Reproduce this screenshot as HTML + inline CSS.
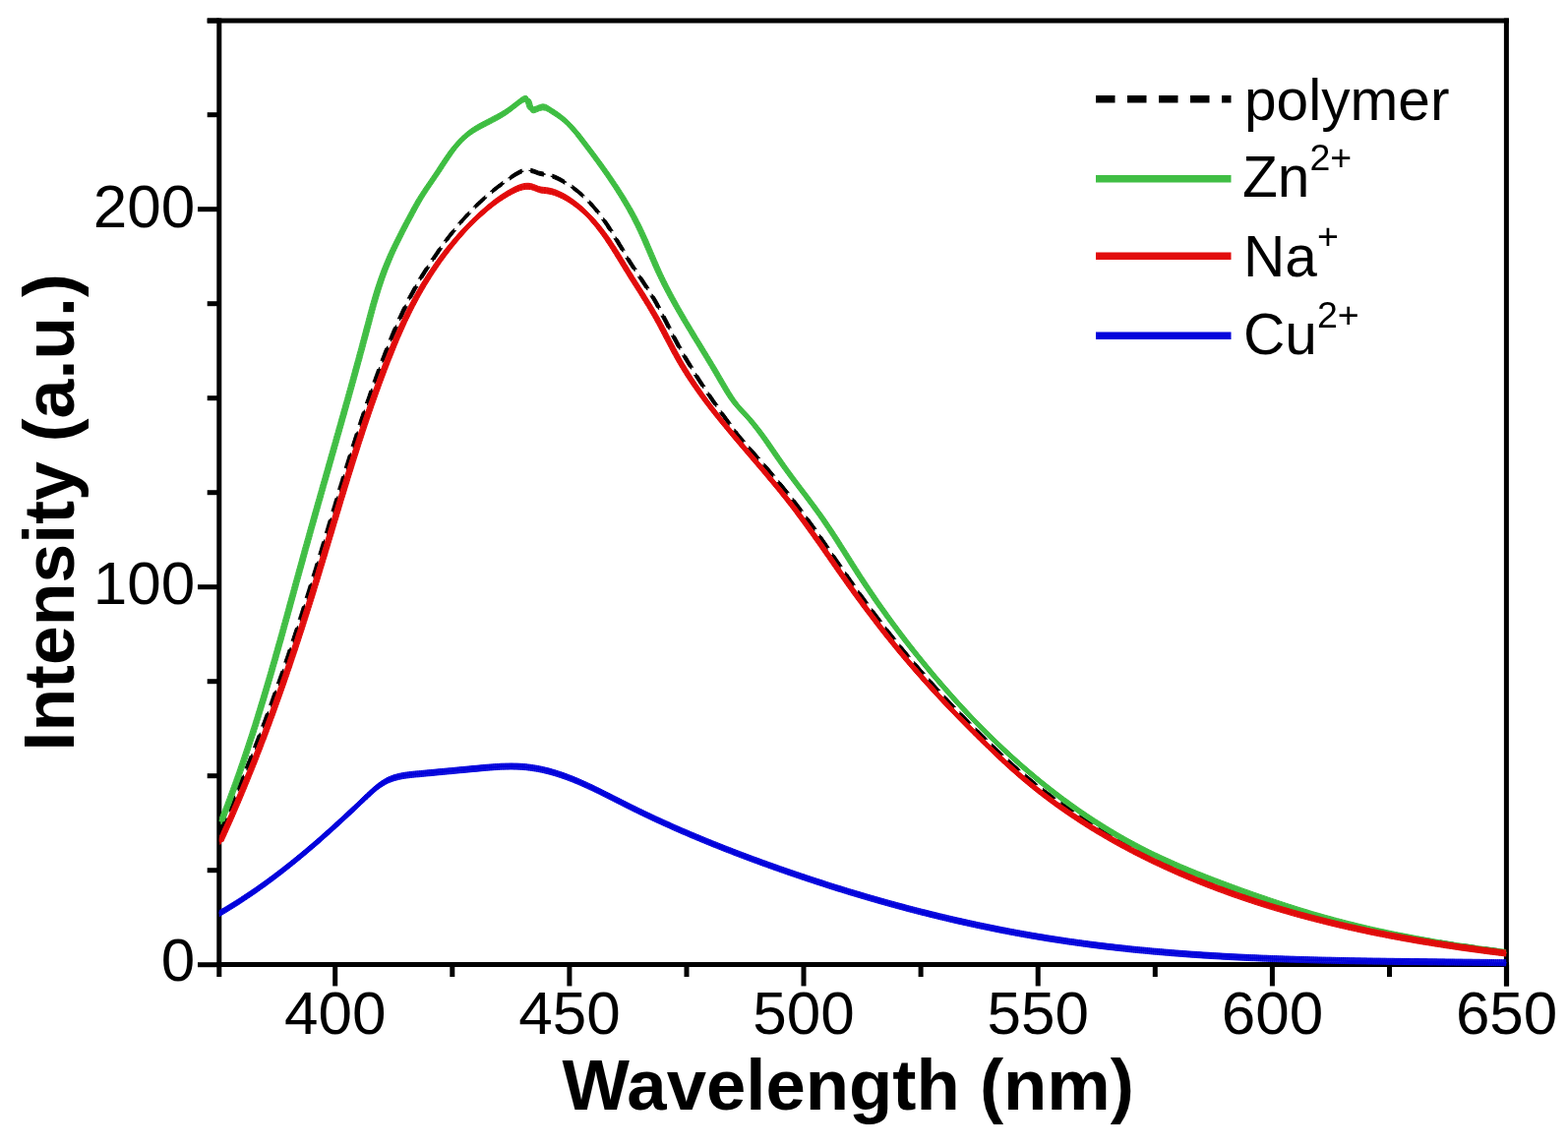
<!DOCTYPE html>
<html><head><meta charset="utf-8"><title>Fluorescence spectra</title>
<style>
html,body{margin:0;padding:0;background:#fff;}
body{width:1594px;height:1167px;overflow:hidden;}
svg{display:block;}
text{font-family:"Liberation Sans",Arial,sans-serif;fill:#000;}
</style></head><body>
<svg width="1594" height="1167" viewBox="0 0 1594 1167">
<rect width="1594" height="1167" fill="#fff"/>
<defs><clipPath id="pc"><rect x="222.8" y="21.0" width="1308.4" height="962.6"/></clipPath></defs>

<g stroke="#000" stroke-width="5.0" fill="none" stroke-linecap="butt">
<path d="M222.8 18.5 V983.1"/>
<path d="M1531.4 18.5 V1002.4"/>
<path d="M210.7 21.0 H1533.9"/>
<path d="M220.3 980.6 H1533.9"/>
<line x1="340.7" y1="980.6" x2="340.7" y2="1002.4"/><line x1="578.9" y1="980.6" x2="578.9" y2="1002.4"/><line x1="817.0" y1="980.6" x2="817.0" y2="1002.4"/><line x1="1055.2" y1="980.6" x2="1055.2" y2="1002.4"/><line x1="1293.4" y1="980.6" x2="1293.4" y2="1002.4"/><line x1="1531.6" y1="980.6" x2="1531.6" y2="1002.4"/><line x1="222.8" y1="980.6" x2="222.8" y2="993"/><line x1="459.8" y1="980.6" x2="459.8" y2="993"/><line x1="698.0" y1="980.6" x2="698.0" y2="993"/><line x1="936.1" y1="980.6" x2="936.1" y2="993"/><line x1="1174.3" y1="980.6" x2="1174.3" y2="993"/><line x1="1412.5" y1="980.6" x2="1412.5" y2="993"/><line x1="201" y1="980.7" x2="222.8" y2="980.7"/><line x1="201" y1="596.7" x2="222.8" y2="596.7"/><line x1="201" y1="212.7" x2="222.8" y2="212.7"/><line x1="210.7" y1="884.7" x2="222.8" y2="884.7"/><line x1="210.7" y1="788.7" x2="222.8" y2="788.7"/><line x1="210.7" y1="692.7" x2="222.8" y2="692.7"/><line x1="210.7" y1="500.7" x2="222.8" y2="500.7"/><line x1="210.7" y1="404.7" x2="222.8" y2="404.7"/><line x1="210.7" y1="308.7" x2="222.8" y2="308.7"/><line x1="210.7" y1="116.7" x2="222.8" y2="116.7"/><line x1="210.7" y1="21.0" x2="222.8" y2="21.0"/>
</g>
<defs>
<path id="cb" d="M223.8 844.6 L225.0 841.9 L226.3 839.1 L227.5 836.4 L228.7 833.6 L229.9 830.9 L231.2 828.1 L232.4 825.3 L233.6 822.6 L234.8 819.8 L236.0 817.1 L237.2 814.3 L238.3 811.5 L239.5 808.8 L240.7 806.0 L241.9 803.2 L243.0 800.4 L244.2 797.7 L245.3 794.9 L246.5 792.1 L247.6 789.3 L248.7 786.5 L249.9 783.8 L251.0 781.0 L252.1 778.2 L253.2 775.4 L254.4 772.6 L255.5 769.8 L256.6 767.0 L257.7 764.2 L258.8 761.4 L259.9 758.6 L260.9 755.9 L262.0 753.1 L263.1 750.2 L264.2 747.4 L265.2 744.6 L266.3 741.8 L267.4 739.0 L268.4 736.2 L269.5 733.4 L270.5 730.6 L271.5 727.8 L272.6 725.0 L273.6 722.2 L274.6 719.3 L275.7 716.5 L276.7 713.7 L277.7 710.9 L278.7 708.0 L279.7 705.2 L280.7 702.4 L281.7 699.6 L282.7 696.7 L283.7 693.9 L284.7 691.1 L285.7 688.2 L286.7 685.4 L287.7 682.6 L288.6 679.7 L289.6 676.9 L290.6 674.1 L291.5 671.2 L292.5 668.4 L293.5 665.5 L294.4 662.7 L295.4 659.8 L296.3 657.0 L297.3 654.1 L298.2 651.3 L299.2 648.4 L300.1 645.6 L301.0 642.7 L302.0 639.9 L302.9 637.0 L303.8 634.2 L304.7 631.3 L305.7 628.4 L306.6 625.6 L307.5 622.7 L308.4 619.9 L309.3 617.0 L310.2 614.1 L311.1 611.3 L312.0 608.4 L312.9 605.5 L313.8 602.6 L314.7 599.8 L315.6 596.9 L316.5 594.0 L317.4 591.2 L318.3 588.3 L319.1 585.4 L320.0 582.5 L320.9 579.7 L321.8 576.8 L322.6 573.9 L323.5 571.1 L324.4 568.2 L325.2 565.3 L326.1 562.5 L327.0 559.6 L327.8 556.7 L328.7 553.9 L329.6 551.0 L330.4 548.1 L331.3 545.2 L332.2 542.4 L333.0 539.5 L333.9 536.6 L334.7 533.8 L335.6 530.9 L336.5 528.0 L337.3 525.1 L338.2 522.3 L339.0 519.4 L339.9 516.5 L340.8 513.7 L341.6 510.8 L342.5 507.9 L343.4 505.0 L344.2 502.2 L345.1 499.3 L345.9 496.4 L346.8 493.6 L347.7 490.7 L348.6 487.8 L349.4 485.0 L350.3 482.1 L351.2 479.3 L352.1 476.4 L352.9 473.5 L353.8 470.7 L354.7 467.8 L355.6 465.0 L356.5 462.1 L357.4 459.2 L358.3 456.4 L359.2 453.5 L360.1 450.7 L361.0 447.9 L361.9 445.0 L362.8 442.2 L363.7 439.3 L364.6 436.5 L365.6 433.6 L366.5 430.8 L367.4 428.0 L368.3 425.1 L369.3 422.3 L370.2 419.5 L371.2 416.7 L372.1 413.8 L373.1 411.0 L374.0 408.2 L375.0 405.4 L376.0 402.6 L376.9 399.8 L377.9 397.0 L378.9 394.2 L379.9 391.4 L380.9 388.6 L381.9 385.8 L382.9 383.0 L383.9 380.2 L384.9 377.4 L386.0 374.6 L387.0 371.8 L388.0 369.1 L389.1 366.3 L390.1 363.5 L391.2 360.8 L392.2 358.0 L393.3 355.3 L394.4 352.5 L395.5 349.8 L396.6 347.0 L397.7 344.3 L398.8 341.5 L399.9 338.8 L401.0 336.1 L402.2 333.5 L403.3 330.8 L404.5 328.1 L405.7 325.5 L406.9 322.8 L408.1 320.2 L409.3 317.6 L410.5 315.0 L411.8 312.3 L413.1 309.7 L414.4 307.1 L415.7 304.5 L417.0 301.9 L418.4 299.3 L419.8 296.8 L421.2 294.2 L422.6 291.7 L424.0 289.1 L425.5 286.6 L427.0 284.0 L428.5 281.5 L430.0 279.0 L431.6 276.5 L433.2 274.0 L434.8 271.6 L436.4 269.1 L438.0 266.7 L439.7 264.3 L441.4 261.7 L443.1 259.2 L444.8 256.7 L446.5 254.1 L448.3 251.6 L450.1 249.2 L451.9 246.7 L453.7 244.3 L455.5 241.8 L457.4 239.4 L459.3 237.0 L461.2 234.7 L463.1 232.3 L465.0 230.0 L467.0 227.7 L468.9 225.4 L470.9 223.2 L472.9 220.9 L474.9 218.7 L477.0 216.5 L479.0 214.4 L481.1 212.2 L483.2 210.1 L485.3 208.0 L487.5 206.0 L489.6 204.0 L491.8 202.0 L493.9 200.0 L496.1 198.1 L498.4 196.2 L500.6 194.3 L502.9 192.5 L505.2 190.7 L507.6 188.9 L510.0 187.2 L512.5 185.3 L515.0 183.4 L517.6 181.5 L520.3 179.7 L523.0 177.9 L525.8 176.3 L528.6 174.8 L531.4 173.8 L534.2 173.3 L537.0 173.1 L539.7 173.4 L542.3 174.1 L544.9 175.0 L547.4 176.0 L550.0 176.6 L552.7 177.1 L555.3 177.5 L558.0 178.1 L560.8 178.9 L563.5 179.8 L566.2 181.0 L568.8 182.3 L571.5 183.7 L574.1 185.3 L576.7 186.9 L579.2 188.5 L581.7 190.2 L584.1 192.0 L586.5 193.8 L588.8 195.7 L591.0 197.6 L593.2 199.6 L595.3 201.7 L597.4 203.8 L599.5 205.9 L601.5 208.1 L603.4 210.3 L605.3 212.5 L607.2 214.8 L609.0 217.1 L610.8 219.5 L612.6 221.9 L614.4 224.4 L616.1 226.9 L617.8 229.4 L619.4 232.0 L621.1 234.5 L622.7 237.1 L624.3 239.7 L625.9 242.3 L627.5 244.9 L629.0 247.5 L630.6 250.1 L632.2 252.7 L633.7 255.3 L635.3 258.0 L636.8 260.6 L638.4 263.2 L640.0 265.8 L641.5 268.2 L643.1 270.6 L644.7 273.0 L646.3 275.4 L647.9 277.8 L649.5 280.2 L651.1 282.5 L652.7 284.9 L654.2 287.3 L655.8 289.7 L657.4 292.1 L658.9 294.5 L660.5 296.9 L662.0 299.3 L663.5 301.8 L665.0 304.2 L666.5 306.9 L668.0 309.6 L669.4 312.3 L670.9 315.0 L672.3 317.7 L673.7 320.5 L675.1 323.2 L676.5 325.9 L677.9 328.7 L679.3 331.4 L680.7 334.2 L682.1 336.9 L683.5 339.7 L684.9 342.4 L686.3 345.1 L687.8 347.8 L689.2 350.5 L690.7 353.2 L692.2 355.9 L693.7 358.6 L695.3 361.2 L696.8 363.8 L698.4 366.5 L700.0 369.1 L701.6 371.8 L703.3 374.5 L704.9 377.2 L706.6 379.9 L708.3 382.6 L710.0 385.3 L711.7 387.9 L713.4 390.6 L715.2 393.2 L716.9 395.9 L718.7 398.5 L720.5 401.1 L722.3 403.7 L724.1 406.4 L725.9 409.0 L727.8 411.6 L729.6 414.2 L731.5 416.9 L733.3 419.5 L735.2 422.1 L737.1 424.7 L739.0 427.3 L740.9 429.9 L742.8 432.5 L744.7 435.1 L746.6 437.6 L748.5 440.2 L750.4 442.7 L752.3 444.9 L754.3 447.1 L756.2 449.3 L758.1 451.5 L760.1 453.7 L762.0 455.9 L763.9 458.1 L765.9 460.3 L767.8 462.5 L769.7 464.7 L771.7 466.9 L773.6 469.1 L775.5 471.3 L777.5 473.5 L779.4 475.7 L781.3 478.0 L783.2 480.2 L785.1 482.5 L787.0 484.8 L788.9 487.0 L790.8 489.3 L792.7 491.6 L794.6 493.9 L796.4 496.2 L798.3 498.5 L800.2 500.8 L802.0 503.1 L803.8 505.4 L805.7 507.8 L807.5 510.1 L809.3 512.5 L811.1 514.8 L812.8 517.2 L814.6 519.5 L816.4 521.9 L818.2 524.3 L819.9 526.7 L821.7 529.1 L823.4 531.4 L825.1 533.8 L826.9 536.2 L828.6 538.7 L830.3 541.1 L832.0 543.5 L833.8 546.0 L835.5 548.5 L837.2 550.9 L838.9 553.4 L840.6 555.9 L842.3 558.4 L844.0 560.8 L845.7 563.3 L847.4 565.8 L849.1 568.3 L850.8 570.8 L852.5 573.2 L854.2 575.7 L855.9 578.2 L857.7 580.7 L859.4 583.1 L861.1 585.6 L862.8 588.1 L864.5 590.5 L866.3 593.0 L868.0 595.4 L869.7 597.9 L871.5 600.3 L873.2 602.8 L875.0 605.2 L876.8 607.6 L878.5 610.1 L880.3 612.5 L882.1 614.9 L883.9 617.3 L885.7 619.7 L887.5 622.1 L889.3 624.5 L891.1 626.9 L892.9 629.3 L894.7 631.7 L896.5 634.1 L898.4 636.5 L900.2 638.8 L902.0 641.2 L903.9 643.5 L905.8 645.8 L907.6 648.2 L909.5 650.5 L911.4 652.8 L913.2 655.1 L915.1 657.4 L917.0 659.7 L918.9 662.0 L920.8 664.3 L922.7 666.6 L924.7 668.9 L926.6 671.1 L928.5 673.4 L930.5 675.7 L932.4 677.9 L934.3 680.2 L936.3 682.4 L938.3 684.6 L940.2 686.9 L942.2 689.1 L944.2 691.3 L946.2 693.5 L948.1 695.7 L950.1 697.9 L952.1 700.1 L954.2 702.3 L956.2 704.5 L958.2 706.7 L960.2 708.8 L962.2 711.0 L964.3 713.2 L966.3 715.3 L968.4 717.5 L970.4 719.6 L972.5 721.8 L974.5 723.9 L976.6 726.1 L978.7 728.2 L980.8 730.3 L982.8 732.5 L984.9 734.6 L987.0 736.7 L989.1 738.8 L991.2 741.0 L993.3 743.1 L995.4 745.2 L997.6 747.3 L999.7 749.4 L1001.8 751.5 L1003.9 753.6 L1006.1 755.7 L1008.2 757.8 L1010.4 759.8 L1012.5 761.9 L1014.7 764.0 L1016.9 766.0 L1019.1 768.1 L1021.2 770.1 L1023.4 772.1 L1025.7 774.1 L1027.9 776.2 L1030.1 778.1 L1032.3 780.1 L1034.6 782.1 L1036.8 784.1 L1039.1 786.0 L1041.4 788.0 L1043.7 789.9 L1046.0 791.8 L1048.3 793.7 L1050.6 795.6 L1052.9 797.5 L1055.2 799.3 L1057.6 801.2 L1059.9 803.0 L1062.3 804.8 L1064.7 806.6 L1067.1 808.4 L1069.5 810.2 L1071.9 812.0 L1074.3 813.8 L1076.7 815.5 L1079.2 817.2 L1081.6 819.0 L1084.1 820.7 L1086.5 822.4 L1089.0 824.0 L1091.5 825.7 L1094.0 827.4 L1096.4 829.0 L1099.0 830.7 L1101.5 832.3 L1104.0 833.9 L1106.5 835.5 L1109.0 837.1 L1111.6 838.7 L1114.1 840.2 L1116.7 841.8 L1119.3 843.3 L1121.8 844.8 L1124.4 846.4 L1127.0 847.9 L1129.6 849.4 L1132.2 850.8 L1134.8 852.3 L1137.4 853.8 L1140.0 855.2 L1142.7 856.7 L1145.3 858.1 L1147.9 859.5 L1150.6 860.9 L1153.2 862.3 L1155.9 863.7 L1158.6 865.0 L1161.2 866.4 L1163.9 867.7 L1166.6 869.1 L1169.3 870.4 L1172.0 871.7 L1174.7 873.0 L1177.4 874.3 L1180.1 875.6 L1182.8 876.9 L1185.5 878.1 L1188.2 879.4 L1190.9 880.6 L1193.7 881.9 L1196.4 883.1 L1199.1 884.3 L1201.9 885.5 L1204.6 886.7 L1207.4 887.8 L1210.1 889.0 L1212.9 890.2 L1215.7 891.3 L1218.4 892.5 L1221.2 893.6 L1224.0 894.7 L1226.7 895.8 L1229.5 896.9 L1232.3 898.0 L1235.1 899.1 L1237.9 900.1 L1240.7 901.2 L1243.5 902.3 L1246.3 903.3 L1249.1 904.3 L1251.9 905.3 L1254.7 906.4 L1257.5 907.4 L1260.3 908.4 L1263.2 909.3 L1266.0 910.3 L1268.8 911.3 L1271.7 912.2 L1274.5 913.2 L1277.3 914.1 L1280.2 915.1 L1283.0 916.0 L1285.9 916.9 L1288.7 917.8 L1291.6 918.7 L1294.4 919.6 L1297.3 920.5 L1300.2 921.3 L1303.0 922.2 L1305.9 923.0 L1308.8 923.9 L1311.6 924.7 L1314.5 925.5 L1317.4 926.4 L1320.3 927.2 L1323.1 928.0 L1326.0 928.7 L1328.9 929.5 L1331.8 930.3 L1334.7 931.1 L1337.6 931.8 L1340.5 932.6 L1343.4 933.3 L1346.3 934.1 L1349.2 934.8 L1352.1 935.5 L1355.0 936.2 L1357.9 936.9 L1360.8 937.6 L1363.7 938.3 L1366.6 939.0 L1369.5 939.7 L1372.5 940.4 L1375.4 941.0 L1378.3 941.7 L1381.2 942.3 L1384.1 943.0 L1387.1 943.6 L1390.0 944.2 L1392.9 944.9 L1395.8 945.5 L1398.8 946.1 L1401.7 946.7 L1404.6 947.3 L1407.6 947.9 L1410.5 948.5 L1413.4 949.0 L1416.4 949.6 L1419.3 950.2 L1422.3 950.7 L1425.2 951.3 L1428.1 951.8 L1431.1 952.4 L1434.0 952.9 L1437.0 953.4 L1439.9 954.0 L1442.8 954.5 L1445.8 955.0 L1448.7 955.5 L1451.7 956.0 L1454.6 956.5 L1457.6 957.0 L1460.5 957.5 L1463.5 957.9 L1466.4 958.4 L1469.4 958.9 L1472.3 959.4 L1475.3 959.8 L1478.2 960.3 L1481.2 960.7 L1484.1 961.1 L1487.1 961.6 L1490.0 962.0 L1493.0 962.4 L1495.9 962.9 L1498.9 963.3 L1501.8 963.7 L1504.8 964.1 L1507.7 964.5 L1510.7 964.9 L1513.6 965.3 L1516.6 965.7 L1519.5 966.1 L1522.5 966.5 L1525.4 966.8 L1528.3 967.2 L1531.3 967.6"/>
<path id="cg" d="M224.8 835.2 L226.0 832.3 L227.2 829.3 L228.3 826.4 L229.5 823.4 L230.6 820.4 L231.8 817.5 L232.9 814.5 L234.0 811.5 L235.1 808.5 L236.2 805.6 L237.3 802.6 L238.4 799.6 L239.5 796.6 L240.6 793.6 L241.6 790.6 L242.7 787.6 L243.8 784.6 L244.8 781.6 L245.8 778.6 L246.9 775.6 L247.9 772.6 L248.9 769.6 L249.9 766.6 L250.9 763.6 L251.9 760.6 L252.9 757.6 L253.9 754.5 L254.9 751.5 L255.9 748.5 L256.9 745.5 L257.8 742.4 L258.8 739.4 L259.8 736.4 L260.7 733.3 L261.7 730.3 L262.6 727.3 L263.5 724.2 L264.5 721.2 L265.4 718.1 L266.3 715.1 L267.3 712.0 L268.2 709.0 L269.1 705.9 L270.0 702.9 L270.9 699.8 L271.8 696.8 L272.7 693.7 L273.6 690.7 L274.5 687.6 L275.4 684.6 L276.3 681.5 L277.1 678.4 L278.0 675.4 L278.9 672.3 L279.8 669.3 L280.6 666.2 L281.5 663.1 L282.4 660.1 L283.2 657.0 L284.1 653.9 L285.0 650.9 L285.8 647.8 L286.7 644.7 L287.5 641.7 L288.4 638.6 L289.2 635.5 L290.1 632.4 L290.9 629.4 L291.8 626.3 L292.6 623.2 L293.5 620.2 L294.3 617.1 L295.1 614.0 L296.0 610.9 L296.8 607.9 L297.7 604.8 L298.5 601.7 L299.4 598.6 L300.2 595.6 L301.0 592.5 L301.9 589.4 L302.7 586.4 L303.6 583.3 L304.4 580.2 L305.3 577.1 L306.1 574.1 L307.0 571.0 L307.8 567.9 L308.6 564.9 L309.5 561.8 L310.3 558.7 L311.2 555.7 L312.1 552.6 L312.9 549.5 L313.8 546.5 L314.6 543.4 L315.5 540.3 L316.3 537.3 L317.2 534.2 L318.1 531.1 L318.9 528.1 L319.8 525.0 L320.6 522.0 L321.5 518.9 L322.4 515.8 L323.2 512.8 L324.1 509.7 L325.0 506.7 L325.8 503.6 L326.7 500.5 L327.6 497.5 L328.4 494.4 L329.3 491.4 L330.2 488.3 L331.1 485.2 L331.9 482.2 L332.8 479.1 L333.7 476.1 L334.5 473.0 L335.4 469.9 L336.3 466.9 L337.1 463.8 L338.0 460.8 L338.9 457.7 L339.7 454.7 L340.6 451.6 L341.5 448.5 L342.3 445.5 L343.2 442.4 L344.1 439.4 L344.9 436.3 L345.8 433.2 L346.7 430.2 L347.5 427.1 L348.4 424.0 L349.3 421.0 L350.1 417.9 L351.0 414.9 L351.8 411.8 L352.7 408.7 L353.6 405.7 L354.4 402.6 L355.3 399.5 L356.1 396.5 L357.0 393.4 L357.8 390.3 L358.7 387.3 L359.5 384.2 L360.4 381.1 L361.2 378.1 L362.0 375.0 L362.9 371.9 L363.7 368.8 L364.6 365.8 L365.4 362.7 L366.2 359.6 L367.1 356.5 L367.9 353.5 L368.7 350.4 L369.5 347.3 L370.4 344.2 L371.2 341.1 L372.0 338.1 L372.8 335.0 L373.6 331.9 L374.5 328.8 L375.3 325.7 L376.1 322.6 L376.9 319.6 L377.7 316.5 L378.6 313.4 L379.4 310.3 L380.3 307.3 L381.2 304.2 L382.1 301.1 L383.0 298.1 L383.9 295.1 L384.9 292.0 L385.9 289.0 L386.9 286.0 L387.9 283.0 L389.0 280.0 L390.1 277.0 L391.2 274.0 L392.4 271.1 L393.6 268.1 L394.8 265.2 L396.0 262.3 L397.3 259.3 L398.6 256.4 L399.9 253.6 L401.3 250.7 L402.7 247.8 L404.1 245.0 L405.5 242.2 L406.9 239.4 L408.3 236.6 L409.7 233.8 L411.2 231.0 L412.6 228.2 L414.1 225.5 L415.5 222.8 L417.0 220.1 L418.4 217.4 L419.9 214.7 L421.3 212.0 L422.8 209.3 L424.3 206.7 L425.8 204.0 L427.4 201.4 L429.0 198.8 L430.7 196.2 L432.4 193.6 L434.1 191.0 L435.9 188.4 L437.7 185.8 L439.5 183.2 L441.3 180.5 L443.1 177.9 L444.9 175.2 L446.7 172.5 L448.4 169.8 L450.1 167.2 L451.9 164.5 L453.7 161.8 L455.5 159.2 L457.3 156.6 L459.1 154.0 L461.0 151.5 L463.0 149.1 L465.0 146.7 L467.1 144.3 L469.3 142.1 L471.5 139.9 L473.9 137.8 L476.3 135.8 L478.8 134.0 L481.5 132.2 L484.2 130.5 L487.0 128.9 L489.9 127.3 L492.8 125.8 L495.7 124.3 L498.6 122.8 L501.4 121.3 L504.3 119.8 L507.1 118.3 L509.8 116.7 L512.5 115.1 L515.1 113.4 L517.6 111.6 L520.1 109.8 L522.7 107.7 L525.5 105.6 L528.4 103.3 L531.3 101.3 L533.9 100.3 L535.9 100.8 L537.2 103.1 L538.1 106.4 L539.1 109.5 L540.6 111.5 L542.8 111.8 L545.6 110.8 L548.7 109.5 L551.8 108.8 L554.7 109.3 L557.5 110.7 L560.2 112.5 L562.9 114.2 L565.5 115.9 L568.1 117.7 L570.5 119.5 L572.9 121.4 L575.3 123.5 L577.5 125.7 L579.7 127.9 L581.8 130.2 L583.9 132.6 L586.0 135.0 L588.0 137.5 L589.9 140.0 L591.9 142.6 L593.8 145.1 L595.8 147.7 L597.7 150.2 L599.7 152.8 L601.6 155.4 L603.5 157.9 L605.4 160.5 L607.3 163.1 L609.2 165.6 L611.0 168.2 L612.9 170.8 L614.7 173.4 L616.6 176.0 L618.4 178.6 L620.2 181.2 L621.9 183.8 L623.7 186.5 L625.5 189.1 L627.2 191.7 L628.9 194.4 L630.6 197.1 L632.3 199.7 L633.9 202.4 L635.5 205.1 L637.1 207.8 L638.7 210.5 L640.3 213.2 L641.8 216.0 L643.3 218.7 L644.8 221.5 L646.2 224.3 L647.6 227.0 L649.0 229.8 L650.4 232.7 L651.7 235.5 L653.0 238.3 L654.3 241.2 L655.6 244.0 L656.8 246.9 L658.0 249.8 L659.3 252.7 L660.5 255.5 L661.7 258.4 L663.0 261.3 L664.2 264.2 L665.5 267.1 L666.7 270.0 L668.0 272.9 L669.3 275.8 L670.6 278.6 L672.0 281.5 L673.4 284.4 L674.8 287.2 L676.2 290.1 L677.7 292.9 L679.2 295.8 L680.7 298.6 L682.2 301.4 L683.7 304.2 L685.3 307.0 L686.8 309.8 L688.4 312.6 L690.0 315.4 L691.6 318.2 L693.2 320.9 L694.8 323.7 L696.4 326.5 L698.1 329.2 L699.7 331.9 L701.3 334.6 L703.0 337.3 L704.6 340.1 L706.2 342.8 L707.9 345.5 L709.5 348.1 L711.2 350.8 L712.8 353.5 L714.4 356.2 L716.1 358.9 L717.7 361.6 L719.4 364.3 L721.0 367.0 L722.6 369.7 L724.3 372.4 L725.9 375.1 L727.5 377.9 L729.1 380.6 L730.7 383.4 L732.3 386.1 L733.9 388.9 L735.6 391.7 L737.2 394.4 L738.8 397.2 L740.5 399.9 L742.2 402.5 L743.9 405.2 L745.8 407.7 L747.6 410.2 L749.6 412.6 L751.6 414.9 L753.7 417.2 L755.8 419.4 L758.0 421.6 L760.0 423.9 L762.1 426.3 L764.1 428.6 L766.1 431.1 L768.0 433.5 L770.0 436.0 L771.9 438.5 L773.8 441.1 L775.7 443.6 L777.5 446.2 L779.4 448.8 L781.2 451.4 L783.0 454.1 L784.8 456.7 L786.6 459.3 L788.4 461.9 L790.2 464.5 L792.0 467.1 L793.8 469.7 L795.6 472.3 L797.4 474.8 L799.3 477.4 L801.1 479.9 L802.9 482.3 L804.7 484.8 L806.6 487.3 L808.4 489.7 L810.3 492.2 L812.1 494.6 L814.0 497.1 L815.8 499.5 L817.7 502.0 L819.6 504.4 L821.4 506.9 L823.3 509.4 L825.1 511.9 L827.0 514.3 L828.8 516.9 L830.6 519.4 L832.5 521.9 L834.3 524.4 L836.1 527.0 L837.9 529.6 L839.6 532.2 L841.4 534.8 L843.2 537.4 L844.9 540.0 L846.6 542.7 L848.4 545.3 L850.1 548.0 L851.8 550.7 L853.5 553.4 L855.2 556.1 L856.9 558.7 L858.6 561.4 L860.3 564.1 L862.0 566.8 L863.7 569.5 L865.4 572.2 L867.1 574.9 L868.8 577.6 L870.5 580.2 L872.2 582.9 L873.9 585.6 L875.7 588.2 L877.4 590.8 L879.2 593.5 L880.9 596.1 L882.7 598.7 L884.4 601.3 L886.2 603.9 L888.0 606.5 L889.7 609.1 L891.5 611.7 L893.3 614.2 L895.1 616.8 L897.0 619.4 L898.8 621.9 L900.6 624.5 L902.4 627.0 L904.3 629.5 L906.1 632.1 L908.0 634.6 L909.9 637.1 L911.7 639.6 L913.6 642.1 L915.5 644.6 L917.4 647.1 L919.3 649.6 L921.2 652.1 L923.1 654.5 L925.1 657.0 L927.0 659.5 L929.0 662.0 L930.9 664.4 L932.9 666.9 L934.9 669.3 L936.9 671.8 L938.9 674.2 L940.9 676.7 L942.9 679.1 L944.9 681.5 L946.9 684.0 L948.9 686.4 L951.0 688.8 L953.1 691.2 L955.1 693.6 L957.2 696.0 L959.3 698.4 L961.4 700.8 L963.5 703.2 L965.6 705.6 L967.7 708.0 L969.8 710.3 L971.9 712.7 L974.1 715.0 L976.2 717.4 L978.4 719.7 L980.6 722.1 L982.7 724.4 L984.9 726.7 L987.1 729.0 L989.3 731.3 L991.5 733.6 L993.8 735.9 L996.0 738.2 L998.2 740.4 L1000.5 742.7 L1002.7 745.0 L1005.0 747.2 L1007.3 749.4 L1009.6 751.7 L1011.9 753.9 L1014.2 756.1 L1016.5 758.3 L1018.8 760.5 L1021.1 762.7 L1023.5 764.8 L1025.8 767.0 L1028.2 769.2 L1030.5 771.3 L1032.9 773.4 L1035.3 775.6 L1037.7 777.7 L1040.1 779.8 L1042.5 781.9 L1044.9 783.9 L1047.3 786.0 L1049.8 788.1 L1052.2 790.1 L1054.7 792.2 L1057.1 794.2 L1059.6 796.2 L1062.1 798.2 L1064.6 800.2 L1067.1 802.2 L1069.6 804.1 L1072.1 806.1 L1074.6 808.0 L1077.1 809.9 L1079.7 811.9 L1082.2 813.8 L1084.8 815.6 L1087.4 817.5 L1089.9 819.4 L1092.5 821.2 L1095.1 823.1 L1097.7 824.9 L1100.3 826.7 L1103.0 828.5 L1105.6 830.3 L1108.2 832.0 L1110.9 833.8 L1113.5 835.5 L1116.2 837.2 L1118.9 838.9 L1121.6 840.6 L1124.3 842.3 L1127.0 844.0 L1129.7 845.6 L1132.4 847.2 L1135.1 848.9 L1137.9 850.5 L1140.6 852.0 L1143.4 853.6 L1146.1 855.2 L1148.9 856.7 L1151.7 858.2 L1154.5 859.7 L1157.3 861.2 L1160.1 862.7 L1162.9 864.1 L1165.8 865.6 L1168.6 867.0 L1171.4 868.4 L1174.3 869.8 L1177.2 871.1 L1180.0 872.5 L1182.9 873.8 L1185.8 875.1 L1188.7 876.4 L1191.6 877.7 L1194.5 879.0 L1197.4 880.3 L1200.3 881.6 L1203.2 882.8 L1206.2 884.0 L1209.1 885.3 L1212.1 886.5 L1215.0 887.7 L1217.9 888.9 L1220.9 890.0 L1223.9 891.2 L1226.8 892.4 L1229.8 893.5 L1232.8 894.7 L1235.7 895.8 L1238.7 896.9 L1241.7 898.1 L1244.7 899.2 L1247.6 900.3 L1250.6 901.4 L1253.6 902.5 L1256.6 903.6 L1259.6 904.7 L1262.6 905.8 L1265.6 906.9 L1268.6 907.9 L1271.6 909.0 L1274.6 910.1 L1277.6 911.1 L1280.6 912.2 L1283.6 913.2 L1286.6 914.2 L1289.6 915.3 L1292.6 916.3 L1295.6 917.3 L1298.6 918.3 L1301.6 919.3 L1304.6 920.3 L1307.6 921.3 L1310.7 922.3 L1313.7 923.2 L1316.7 924.2 L1319.8 925.2 L1322.8 926.1 L1325.8 927.0 L1328.9 927.9 L1331.9 928.9 L1334.9 929.8 L1338.0 930.7 L1341.1 931.5 L1344.1 932.4 L1347.2 933.3 L1350.2 934.1 L1353.3 934.9 L1356.4 935.8 L1359.4 936.6 L1362.5 937.4 L1365.6 938.2 L1368.7 939.0 L1371.8 939.8 L1374.9 940.5 L1377.9 941.3 L1381.0 942.1 L1384.1 942.8 L1387.2 943.5 L1390.3 944.3 L1393.4 945.0 L1396.5 945.7 L1399.6 946.4 L1402.8 947.1 L1405.9 947.7 L1409.0 948.4 L1412.1 949.1 L1415.2 949.7 L1418.3 950.4 L1421.5 951.0 L1424.6 951.6 L1427.7 952.2 L1430.8 952.8 L1434.0 953.4 L1437.1 954.0 L1440.2 954.6 L1443.4 955.2 L1446.5 955.8 L1449.6 956.3 L1452.8 956.9 L1455.9 957.4 L1459.0 958.0 L1462.2 958.5 L1465.3 959.0 L1468.5 959.6 L1471.6 960.1 L1474.8 960.6 L1477.9 961.1 L1481.1 961.6 L1484.2 962.0 L1487.3 962.5 L1490.5 963.0 L1493.6 963.4 L1496.8 963.9 L1499.9 964.4 L1503.1 964.8 L1506.2 965.2 L1509.4 965.7 L1512.5 966.1 L1515.7 966.5 L1518.8 966.9 L1522.0 967.3 L1525.1 967.7 L1528.3 968.1 L1531.4 968.5"/>
<path id="cr" d="M223.8 855.7 L225.0 852.9 L226.3 850.2 L227.5 847.5 L228.7 844.8 L229.9 842.0 L231.2 839.3 L232.4 836.6 L233.6 833.8 L234.8 831.1 L236.0 828.3 L237.2 825.6 L238.3 822.9 L239.5 820.1 L240.7 817.4 L241.9 814.6 L243.0 811.9 L244.2 809.1 L245.3 806.4 L246.5 803.6 L247.6 800.9 L248.7 798.1 L249.9 795.3 L251.0 792.6 L252.1 789.8 L253.2 787.0 L254.4 784.3 L255.5 781.5 L256.6 778.7 L257.7 776.0 L258.8 773.2 L259.9 770.4 L260.9 767.6 L262.0 764.9 L263.1 762.1 L264.2 759.3 L265.2 756.5 L266.3 753.7 L267.4 751.0 L268.4 748.2 L269.5 745.4 L270.5 742.6 L271.5 739.8 L272.6 737.0 L273.6 734.2 L274.6 731.4 L275.7 728.6 L276.7 725.8 L277.7 723.0 L278.7 720.2 L279.7 717.4 L280.7 714.6 L281.7 711.8 L282.7 709.0 L283.7 706.2 L284.7 703.4 L285.7 700.5 L286.7 697.7 L287.7 694.9 L288.6 692.1 L289.6 689.3 L290.6 686.5 L291.5 683.6 L292.5 680.8 L293.5 678.0 L294.4 675.2 L295.4 672.3 L296.3 669.5 L297.3 666.7 L298.2 663.9 L299.2 661.0 L300.1 658.2 L301.0 655.3 L302.0 652.5 L302.9 649.7 L303.8 646.8 L304.7 644.0 L305.7 641.2 L306.6 638.3 L307.5 635.5 L308.4 632.6 L309.3 629.8 L310.2 626.9 L311.1 624.1 L312.0 621.2 L312.9 618.4 L313.8 615.5 L314.7 612.7 L315.6 609.8 L316.5 607.0 L317.4 604.1 L318.3 601.2 L319.1 598.4 L320.0 595.5 L320.9 592.7 L321.8 589.8 L322.6 586.9 L323.5 584.1 L324.4 581.2 L325.2 578.3 L326.1 575.5 L327.0 572.6 L327.8 569.7 L328.7 566.9 L329.6 564.0 L330.4 561.1 L331.3 558.2 L332.2 555.4 L333.0 552.5 L333.9 549.6 L334.7 546.8 L335.6 543.9 L336.5 541.0 L337.3 538.1 L338.2 535.3 L339.0 532.4 L339.9 529.5 L340.8 526.7 L341.6 523.8 L342.5 520.9 L343.4 518.0 L344.2 515.2 L345.1 512.3 L345.9 509.4 L346.8 506.6 L347.7 503.7 L348.6 500.8 L349.4 498.0 L350.3 495.1 L351.2 492.3 L352.1 489.4 L352.9 486.5 L353.8 483.7 L354.7 480.8 L355.6 478.0 L356.5 475.1 L357.4 472.2 L358.3 469.4 L359.2 466.5 L360.1 463.7 L361.0 460.9 L361.9 458.0 L362.8 455.2 L363.7 452.3 L364.6 449.5 L365.6 446.6 L366.5 443.8 L367.4 441.0 L368.3 438.1 L369.3 435.3 L370.2 432.5 L371.2 429.7 L372.1 426.8 L373.1 424.0 L374.0 421.2 L375.0 418.4 L376.0 415.6 L376.9 412.8 L377.9 410.0 L378.9 407.2 L379.9 404.4 L380.9 401.6 L381.9 398.8 L382.9 396.0 L383.9 393.2 L384.9 390.4 L386.0 387.6 L387.0 384.8 L388.0 382.1 L389.1 379.3 L390.1 376.5 L391.2 373.8 L392.2 371.0 L393.3 368.3 L394.4 365.5 L395.5 362.8 L396.6 360.0 L397.7 357.3 L398.8 354.5 L399.9 351.8 L401.0 349.1 L402.2 346.3 L403.3 343.6 L404.5 340.9 L405.7 338.2 L406.9 335.5 L408.1 332.8 L409.3 330.1 L410.5 327.4 L411.8 324.7 L413.1 322.1 L414.4 319.4 L415.7 316.7 L417.0 314.1 L418.4 311.4 L419.8 308.8 L421.2 306.2 L422.6 303.5 L424.0 300.9 L425.5 298.3 L427.0 295.7 L428.5 293.1 L430.0 290.5 L431.6 287.9 L433.2 285.4 L434.8 282.8 L436.4 280.3 L438.0 277.8 L439.7 275.3 L441.4 272.8 L443.1 270.3 L444.8 267.8 L446.5 265.4 L448.3 263.0 L450.1 260.5 L451.9 258.2 L453.7 255.8 L455.5 253.4 L457.4 251.1 L459.3 248.8 L461.2 246.5 L463.1 244.2 L465.0 241.9 L467.0 239.7 L468.9 237.5 L470.9 235.3 L472.9 233.1 L474.9 231.0 L477.0 228.9 L479.0 226.8 L481.1 224.8 L483.2 222.7 L485.3 220.7 L487.5 218.7 L489.6 216.8 L491.8 214.9 L493.9 213.0 L496.1 211.1 L498.4 209.3 L500.6 207.5 L502.9 205.7 L505.2 204.0 L507.6 202.3 L510.0 200.7 L512.5 199.1 L515.0 197.5 L517.6 196.0 L520.3 194.5 L523.0 193.1 L525.8 191.8 L528.6 190.7 L531.4 189.9 L534.2 189.4 L537.0 189.3 L539.7 189.6 L542.3 190.4 L544.9 191.4 L547.4 192.4 L550.0 193.1 L552.7 193.4 L555.3 193.7 L558.0 194.1 L560.8 194.7 L563.5 195.5 L566.2 196.5 L568.8 197.7 L571.5 198.9 L574.1 200.3 L576.7 201.8 L579.2 203.4 L581.7 205.1 L584.1 206.9 L586.5 208.7 L588.8 210.5 L591.0 212.4 L593.2 214.4 L595.3 216.4 L597.4 218.4 L599.5 220.5 L601.5 222.7 L603.4 224.9 L605.3 227.1 L607.2 229.3 L609.0 231.6 L610.8 234.0 L612.6 236.3 L614.4 238.7 L616.1 241.1 L617.8 243.5 L619.4 246.0 L621.1 248.5 L622.7 250.9 L624.3 253.4 L625.9 256.0 L627.5 258.5 L629.0 261.0 L630.6 263.6 L632.2 266.1 L633.7 268.7 L635.3 271.2 L636.8 273.8 L638.4 276.3 L640.0 278.8 L641.5 281.4 L643.1 283.9 L644.7 286.4 L646.3 288.9 L647.9 291.4 L649.5 293.9 L651.1 296.4 L652.7 298.9 L654.2 301.4 L655.8 304.0 L657.4 306.5 L658.9 309.0 L660.5 311.5 L662.0 314.1 L663.5 316.7 L665.0 319.2 L666.5 321.8 L668.0 324.4 L669.4 327.0 L670.9 329.7 L672.3 332.3 L673.7 335.0 L675.1 337.6 L676.5 340.3 L677.9 343.0 L679.3 345.6 L680.7 348.3 L682.1 350.9 L683.5 353.6 L684.9 356.3 L686.3 358.9 L687.8 361.5 L689.2 364.1 L690.7 366.8 L692.2 369.3 L693.7 371.9 L695.3 374.5 L696.8 377.0 L698.4 379.5 L700.0 382.1 L701.6 384.6 L703.3 387.1 L704.9 389.5 L706.6 392.0 L708.3 394.4 L710.0 396.9 L711.7 399.3 L713.4 401.7 L715.2 404.1 L716.9 406.5 L718.7 408.9 L720.5 411.3 L722.3 413.6 L724.1 416.0 L725.9 418.3 L727.8 420.7 L729.6 423.0 L731.5 425.3 L733.3 427.6 L735.2 429.9 L737.1 432.2 L739.0 434.5 L740.9 436.8 L742.8 439.1 L744.7 441.4 L746.6 443.7 L748.5 446.0 L750.4 448.2 L752.3 450.5 L754.3 452.8 L756.2 455.0 L758.1 457.3 L760.1 459.6 L762.0 461.8 L763.9 464.1 L765.9 466.4 L767.8 468.6 L769.7 470.9 L771.7 473.1 L773.6 475.4 L775.5 477.7 L777.5 479.9 L779.4 482.2 L781.3 484.5 L783.2 486.8 L785.1 489.1 L787.0 491.3 L788.9 493.6 L790.8 495.9 L792.7 498.2 L794.6 500.5 L796.4 502.8 L798.3 505.2 L800.2 507.5 L802.0 509.8 L803.8 512.2 L805.7 514.5 L807.5 516.9 L809.3 519.2 L811.1 521.6 L812.8 524.0 L814.6 526.4 L816.4 528.8 L818.2 531.2 L819.9 533.6 L821.7 536.0 L823.4 538.4 L825.1 540.8 L826.9 543.2 L828.6 545.6 L830.3 548.1 L832.0 550.5 L833.8 552.9 L835.5 555.4 L837.2 557.8 L838.9 560.2 L840.6 562.7 L842.3 565.1 L844.0 567.5 L845.7 570.0 L847.4 572.4 L849.1 574.9 L850.8 577.3 L852.5 579.8 L854.2 582.2 L855.9 584.6 L857.7 587.1 L859.4 589.5 L861.1 591.9 L862.8 594.4 L864.5 596.8 L866.3 599.2 L868.0 601.6 L869.7 604.0 L871.5 606.4 L873.2 608.8 L875.0 611.2 L876.8 613.6 L878.5 616.0 L880.3 618.4 L882.1 620.8 L883.9 623.2 L885.7 625.5 L887.5 627.9 L889.3 630.3 L891.1 632.6 L892.9 635.0 L894.7 637.3 L896.5 639.7 L898.4 642.0 L900.2 644.3 L902.0 646.7 L903.9 649.0 L905.8 651.3 L907.6 653.6 L909.5 655.9 L911.4 658.2 L913.2 660.5 L915.1 662.8 L917.0 665.1 L918.9 667.3 L920.8 669.6 L922.7 671.9 L924.7 674.1 L926.6 676.4 L928.5 678.6 L930.5 680.9 L932.4 683.1 L934.3 685.3 L936.3 687.5 L938.3 689.7 L940.2 692.0 L942.2 694.2 L944.2 696.4 L946.2 698.5 L948.1 700.7 L950.1 702.9 L952.1 705.1 L954.2 707.3 L956.2 709.4 L958.2 711.6 L960.2 713.7 L962.2 715.9 L964.3 718.0 L966.3 720.2 L968.4 722.3 L970.4 724.4 L972.5 726.6 L974.5 728.7 L976.6 730.8 L978.7 732.9 L980.8 735.0 L982.8 737.1 L984.9 739.2 L987.0 741.3 L989.1 743.4 L991.2 745.5 L993.3 747.6 L995.4 749.7 L997.6 751.8 L999.7 753.9 L1001.8 756.0 L1003.9 758.1 L1006.1 760.1 L1008.2 762.2 L1010.4 764.3 L1012.5 766.3 L1014.7 768.4 L1016.9 770.4 L1019.1 772.4 L1021.2 774.5 L1023.4 776.5 L1025.7 778.5 L1027.9 780.5 L1030.1 782.4 L1032.3 784.4 L1034.6 786.4 L1036.8 788.3 L1039.1 790.3 L1041.4 792.2 L1043.7 794.1 L1046.0 796.0 L1048.3 797.9 L1050.6 799.8 L1052.9 801.6 L1055.2 803.5 L1057.6 805.3 L1059.9 807.1 L1062.3 808.9 L1064.7 810.7 L1067.1 812.5 L1069.5 814.3 L1071.9 816.0 L1074.3 817.8 L1076.7 819.5 L1079.2 821.2 L1081.6 822.9 L1084.1 824.6 L1086.5 826.3 L1089.0 827.9 L1091.5 829.6 L1094.0 831.2 L1096.4 832.9 L1099.0 834.5 L1101.5 836.1 L1104.0 837.7 L1106.5 839.3 L1109.0 840.9 L1111.6 842.4 L1114.1 844.0 L1116.7 845.5 L1119.3 847.0 L1121.8 848.5 L1124.4 850.0 L1127.0 851.5 L1129.6 853.0 L1132.2 854.5 L1134.8 855.9 L1137.4 857.4 L1140.0 858.8 L1142.7 860.2 L1145.3 861.6 L1147.9 863.0 L1150.6 864.4 L1153.2 865.8 L1155.9 867.1 L1158.6 868.5 L1161.2 869.8 L1163.9 871.1 L1166.6 872.5 L1169.3 873.8 L1172.0 875.1 L1174.7 876.4 L1177.4 877.6 L1180.1 878.9 L1182.8 880.2 L1185.5 881.4 L1188.2 882.6 L1190.9 883.8 L1193.7 885.1 L1196.4 886.3 L1199.1 887.5 L1201.9 888.6 L1204.6 889.8 L1207.4 891.0 L1210.1 892.1 L1212.9 893.2 L1215.7 894.4 L1218.4 895.5 L1221.2 896.6 L1224.0 897.7 L1226.7 898.8 L1229.5 899.9 L1232.3 900.9 L1235.1 902.0 L1237.9 903.1 L1240.7 904.1 L1243.5 905.1 L1246.3 906.2 L1249.1 907.2 L1251.9 908.2 L1254.7 909.2 L1257.5 910.1 L1260.3 911.1 L1263.2 912.1 L1266.0 913.0 L1268.8 914.0 L1271.7 914.9 L1274.5 915.9 L1277.3 916.8 L1280.2 917.7 L1283.0 918.6 L1285.9 919.5 L1288.7 920.4 L1291.6 921.3 L1294.4 922.1 L1297.3 923.0 L1300.2 923.8 L1303.0 924.7 L1305.9 925.5 L1308.8 926.3 L1311.6 927.2 L1314.5 928.0 L1317.4 928.8 L1320.3 929.6 L1323.1 930.4 L1326.0 931.1 L1328.9 931.9 L1331.8 932.7 L1334.7 933.4 L1337.6 934.2 L1340.5 934.9 L1343.4 935.6 L1346.3 936.4 L1349.2 937.1 L1352.1 937.8 L1355.0 938.5 L1357.9 939.2 L1360.8 939.9 L1363.7 940.6 L1366.6 941.2 L1369.5 941.9 L1372.5 942.6 L1375.4 943.2 L1378.3 943.8 L1381.2 944.5 L1384.1 945.1 L1387.1 945.7 L1390.0 946.4 L1392.9 947.0 L1395.8 947.6 L1398.8 948.2 L1401.7 948.8 L1404.6 949.3 L1407.6 949.9 L1410.5 950.5 L1413.4 951.1 L1416.4 951.6 L1419.3 952.2 L1422.3 952.7 L1425.2 953.3 L1428.1 953.8 L1431.1 954.3 L1434.0 954.8 L1437.0 955.4 L1439.9 955.9 L1442.8 956.4 L1445.8 956.9 L1448.7 957.4 L1451.7 957.8 L1454.6 958.3 L1457.6 958.8 L1460.5 959.3 L1463.5 959.7 L1466.4 960.2 L1469.4 960.7 L1472.3 961.1 L1475.3 961.5 L1478.2 962.0 L1481.2 962.4 L1484.1 962.9 L1487.1 963.3 L1490.0 963.7 L1493.0 964.1 L1495.9 964.5 L1498.9 964.9 L1501.8 965.3 L1504.8 965.7 L1507.7 966.1 L1510.7 966.5 L1513.6 966.9 L1516.6 967.3 L1519.5 967.6 L1522.5 968.0 L1525.4 968.4 L1528.3 968.7 L1531.3 969.1"/>
<path id="cu" d="M222.5 928.8 L224.3 927.8 L226.0 926.8 L227.7 925.8 L229.4 924.8 L231.1 923.8 L232.8 922.7 L234.4 921.7 L236.1 920.7 L237.8 919.6 L239.5 918.6 L241.2 917.5 L242.8 916.5 L244.5 915.4 L246.1 914.3 L247.8 913.2 L249.4 912.1 L251.1 911.0 L252.7 909.9 L254.4 908.8 L256.0 907.7 L257.6 906.6 L259.3 905.5 L260.9 904.4 L262.5 903.2 L264.1 902.1 L265.7 900.9 L267.3 899.8 L269.0 898.6 L270.6 897.5 L272.2 896.3 L273.7 895.1 L275.3 894.0 L276.9 892.8 L278.5 891.6 L280.1 890.4 L281.7 889.2 L283.2 888.0 L284.8 886.8 L286.4 885.6 L288.0 884.4 L289.5 883.1 L291.1 881.9 L292.6 880.7 L294.2 879.5 L295.7 878.2 L297.3 877.0 L298.8 875.7 L300.4 874.5 L301.9 873.2 L303.4 872.0 L305.0 870.7 L306.5 869.4 L308.0 868.2 L309.6 866.9 L311.1 865.6 L312.6 864.3 L314.1 863.0 L315.6 861.8 L317.1 860.5 L318.6 859.2 L320.2 857.9 L321.7 856.6 L323.2 855.3 L324.7 854.0 L326.2 852.6 L327.6 851.3 L329.1 850.0 L330.6 848.7 L332.1 847.4 L333.6 846.0 L335.1 844.7 L336.6 843.4 L338.1 842.0 L339.5 840.7 L341.0 839.4 L342.5 838.0 L343.9 836.7 L345.4 835.3 L346.9 834.0 L348.4 832.6 L349.8 831.3 L351.3 829.9 L352.7 828.6 L354.2 827.2 L355.7 825.8 L357.1 824.5 L358.6 823.1 L360.0 821.8 L361.5 820.4 L362.9 819.0 L364.4 817.6 L365.8 816.3 L367.3 814.9 L368.7 813.5 L370.1 812.1 L371.6 810.8 L373.0 809.4 L374.5 808.0 L375.9 806.7 L377.4 805.3 L378.8 804.0 L380.3 802.7 L381.8 801.5 L383.3 800.2 L384.9 799.0 L386.4 797.9 L388.0 796.8 L389.6 795.8 L391.3 794.8 L392.9 793.9 L394.6 793.0 L396.4 792.3 L398.2 791.6 L400.0 790.9 L401.8 790.4 L403.7 789.9 L405.6 789.4 L407.5 789.0 L409.4 788.6 L411.4 788.3 L413.4 788.0 L415.3 787.8 L417.3 787.5 L419.3 787.3 L421.3 787.1 L423.3 786.9 L425.3 786.8 L427.3 786.6 L429.2 786.4 L431.2 786.2 L433.2 786.0 L435.1 785.8 L437.1 785.7 L439.1 785.5 L441.0 785.3 L442.9 785.1 L444.9 784.9 L446.8 784.7 L448.8 784.6 L450.7 784.4 L452.7 784.2 L454.6 784.0 L456.5 783.8 L458.5 783.7 L460.4 783.5 L462.4 783.3 L464.3 783.1 L466.3 782.9 L468.2 782.7 L470.2 782.6 L472.1 782.4 L474.1 782.2 L476.1 782.0 L478.1 781.8 L480.0 781.6 L482.0 781.4 L484.0 781.3 L486.0 781.1 L488.0 780.9 L490.1 780.7 L492.1 780.5 L494.1 780.3 L496.2 780.2 L498.2 780.0 L500.2 779.9 L502.3 779.7 L504.3 779.6 L506.4 779.5 L508.4 779.3 L510.5 779.2 L512.5 779.2 L514.6 779.1 L516.6 779.1 L518.6 779.0 L520.7 779.0 L522.7 779.1 L524.7 779.1 L526.8 779.2 L528.8 779.3 L530.8 779.4 L532.8 779.6 L534.7 779.7 L536.7 780.0 L538.7 780.2 L540.7 780.5 L542.6 780.8 L544.6 781.1 L546.5 781.4 L548.4 781.8 L550.4 782.2 L552.3 782.6 L554.2 783.1 L556.1 783.5 L558.0 784.0 L559.9 784.5 L561.8 785.1 L563.7 785.6 L565.5 786.2 L567.4 786.8 L569.3 787.4 L571.1 788.0 L573.0 788.7 L574.8 789.3 L576.7 790.0 L578.5 790.7 L580.3 791.4 L582.2 792.1 L584.0 792.9 L585.8 793.6 L587.7 794.4 L589.5 795.2 L591.3 796.0 L593.1 796.8 L594.9 797.6 L596.7 798.4 L598.5 799.3 L600.3 800.1 L602.1 800.9 L603.9 801.8 L605.7 802.7 L607.5 803.5 L609.3 804.4 L611.1 805.3 L612.8 806.2 L614.6 807.1 L616.4 808.0 L618.2 808.9 L620.0 809.8 L621.8 810.7 L623.5 811.6 L625.3 812.5 L627.1 813.4 L628.9 814.3 L630.7 815.2 L632.4 816.1 L634.2 817.0 L636.0 817.9 L637.8 818.8 L639.6 819.7 L641.4 820.6 L643.2 821.5 L645.0 822.4 L646.7 823.2 L648.5 824.1 L650.3 825.0 L652.1 825.8 L653.9 826.7 L655.7 827.6 L657.5 828.4 L659.3 829.3 L661.1 830.1 L662.9 831.0 L664.7 831.8 L666.5 832.7 L668.3 833.5 L670.1 834.3 L671.9 835.1 L673.8 836.0 L675.6 836.8 L677.4 837.6 L679.2 838.4 L681.0 839.2 L682.8 840.1 L684.6 840.9 L686.4 841.7 L688.3 842.5 L690.1 843.3 L691.9 844.1 L693.7 844.9 L695.5 845.6 L697.4 846.4 L699.2 847.2 L701.0 848.0 L702.8 848.8 L704.7 849.5 L706.5 850.3 L708.3 851.1 L710.2 851.8 L712.0 852.6 L713.8 853.4 L715.7 854.1 L717.5 854.9 L719.3 855.6 L721.2 856.4 L723.0 857.1 L724.8 857.9 L726.7 858.6 L728.5 859.3 L730.4 860.1 L732.2 860.8 L734.0 861.5 L735.9 862.3 L737.7 863.0 L739.6 863.7 L741.4 864.4 L743.3 865.1 L745.1 865.9 L747.0 866.6 L748.8 867.3 L750.7 868.0 L752.5 868.7 L754.4 869.4 L756.2 870.1 L758.1 870.8 L759.9 871.5 L761.8 872.2 L763.7 872.9 L765.5 873.6 L767.4 874.3 L769.2 874.9 L771.1 875.6 L773.0 876.3 L774.8 877.0 L776.7 877.7 L778.6 878.3 L780.4 879.0 L782.3 879.7 L784.2 880.3 L786.0 881.0 L787.9 881.7 L789.8 882.3 L791.7 883.0 L793.5 883.7 L795.4 884.3 L797.3 885.0 L799.2 885.6 L801.0 886.3 L802.9 886.9 L804.8 887.6 L806.7 888.2 L808.5 888.8 L810.4 889.5 L812.3 890.1 L814.2 890.8 L816.1 891.4 L818.0 892.0 L819.8 892.7 L821.7 893.3 L823.6 893.9 L825.5 894.5 L827.4 895.2 L829.3 895.8 L831.2 896.4 L833.1 897.0 L835.0 897.6 L836.9 898.2 L838.7 898.8 L840.6 899.5 L842.5 900.1 L844.4 900.7 L846.3 901.3 L848.2 901.9 L850.1 902.5 L852.0 903.1 L853.9 903.6 L855.8 904.2 L857.7 904.8 L859.6 905.4 L861.5 906.0 L863.4 906.6 L865.3 907.2 L867.2 907.7 L869.2 908.3 L871.1 908.9 L873.0 909.4 L874.9 910.0 L876.8 910.6 L878.7 911.1 L880.6 911.7 L882.5 912.3 L884.4 912.8 L886.3 913.4 L888.3 913.9 L890.2 914.5 L892.1 915.0 L894.0 915.6 L895.9 916.1 L897.8 916.6 L899.7 917.2 L901.7 917.7 L903.6 918.3 L905.5 918.8 L907.4 919.3 L909.3 919.8 L911.3 920.4 L913.2 920.9 L915.1 921.4 L917.0 921.9 L919.0 922.4 L920.9 923.0 L922.8 923.5 L924.7 924.0 L926.7 924.5 L928.6 925.0 L930.5 925.5 L932.4 926.0 L934.4 926.5 L936.3 927.0 L938.2 927.5 L940.2 927.9 L942.1 928.4 L944.0 928.9 L946.0 929.4 L947.9 929.9 L949.8 930.3 L951.8 930.8 L953.7 931.3 L955.6 931.8 L957.6 932.2 L959.5 932.7 L961.4 933.1 L963.4 933.6 L965.3 934.1 L967.3 934.5 L969.2 935.0 L971.1 935.4 L973.1 935.9 L975.0 936.3 L977.0 936.7 L978.9 937.2 L980.9 937.6 L982.8 938.0 L984.7 938.5 L986.7 938.9 L988.6 939.3 L990.6 939.7 L992.5 940.2 L994.5 940.6 L996.4 941.0 L998.4 941.4 L1000.3 941.8 L1002.3 942.2 L1004.2 942.6 L1006.2 943.0 L1008.1 943.4 L1010.1 943.8 L1012.0 944.2 L1014.0 944.6 L1015.9 945.0 L1017.9 945.4 L1019.8 945.8 L1021.8 946.1 L1023.7 946.5 L1025.7 946.9 L1027.6 947.3 L1029.6 947.6 L1031.6 948.0 L1033.5 948.4 L1035.5 948.7 L1037.4 949.1 L1039.4 949.4 L1041.3 949.8 L1043.3 950.1 L1045.3 950.5 L1047.2 950.8 L1049.2 951.2 L1051.1 951.5 L1053.1 951.8 L1055.1 952.2 L1057.0 952.5 L1059.0 952.8 L1061.0 953.1 L1062.9 953.5 L1064.9 953.8 L1066.8 954.1 L1068.8 954.4 L1070.8 954.7 L1072.7 955.0 L1074.7 955.3 L1076.7 955.6 L1078.6 955.9 L1080.6 956.2 L1082.6 956.5 L1084.5 956.8 L1086.5 957.1 L1088.5 957.4 L1090.4 957.6 L1092.4 957.9 L1094.4 958.2 L1096.4 958.5 L1098.3 958.7 L1100.3 959.0 L1102.3 959.3 L1104.2 959.5 L1106.2 959.8 L1108.2 960.1 L1110.1 960.3 L1112.1 960.6 L1114.1 960.8 L1116.1 961.1 L1118.0 961.3 L1120.0 961.5 L1122.0 961.8 L1124.0 962.0 L1125.9 962.3 L1127.9 962.5 L1129.9 962.7 L1131.9 962.9 L1133.8 963.2 L1135.8 963.4 L1137.8 963.6 L1139.8 963.8 L1141.7 964.0 L1143.7 964.2 L1145.7 964.5 L1147.7 964.7 L1149.7 964.9 L1151.6 965.1 L1153.6 965.3 L1155.6 965.5 L1157.6 965.7 L1159.5 965.9 L1161.5 966.0 L1163.5 966.2 L1165.5 966.4 L1167.5 966.6 L1169.4 966.8 L1171.4 967.0 L1173.4 967.2 L1175.4 967.3 L1177.4 967.5 L1179.4 967.7 L1181.3 967.8 L1183.3 968.0 L1185.3 968.2 L1187.3 968.3 L1189.3 968.5 L1191.2 968.7 L1193.2 968.8 L1195.2 969.0 L1197.2 969.1 L1199.2 969.3 L1201.2 969.4 L1203.2 969.6 L1205.1 969.7 L1207.1 969.9 L1209.1 970.0 L1211.1 970.2 L1213.1 970.3 L1215.1 970.4 L1217.1 970.6 L1219.0 970.7 L1221.0 970.8 L1223.0 971.0 L1225.0 971.1 L1227.0 971.2 L1229.0 971.3 L1231.0 971.5 L1232.9 971.6 L1234.9 971.7 L1236.9 971.8 L1238.9 971.9 L1240.9 972.0 L1242.9 972.2 L1244.9 972.3 L1246.9 972.4 L1248.8 972.5 L1250.8 972.6 L1252.8 972.7 L1254.8 972.8 L1256.8 972.9 L1258.8 973.0 L1260.8 973.1 L1262.8 973.2 L1264.8 973.3 L1266.8 973.4 L1268.7 973.5 L1270.7 973.6 L1272.7 973.7 L1274.7 973.7 L1276.7 973.8 L1278.7 973.9 L1280.7 974.0 L1282.7 974.1 L1284.7 974.2 L1286.7 974.2 L1288.6 974.3 L1290.6 974.4 L1292.6 974.5 L1294.6 974.6 L1296.6 974.6 L1298.6 974.7 L1300.6 974.8 L1302.6 974.8 L1304.6 974.9 L1306.6 975.0 L1308.6 975.0 L1310.6 975.1 L1312.5 975.2 L1314.5 975.2 L1316.5 975.3 L1318.5 975.4 L1320.5 975.4 L1322.5 975.5 L1324.5 975.5 L1326.5 975.6 L1328.5 975.6 L1330.5 975.7 L1332.5 975.8 L1334.5 975.8 L1336.5 975.9 L1338.4 975.9 L1340.4 976.0 L1342.4 976.0 L1344.4 976.1 L1346.4 976.1 L1348.4 976.2 L1350.4 976.2 L1352.4 976.2 L1354.4 976.3 L1356.4 976.3 L1358.4 976.4 L1360.4 976.4 L1362.4 976.5 L1364.3 976.5 L1366.3 976.5 L1368.3 976.6 L1370.3 976.6 L1372.3 976.7 L1374.3 976.7 L1376.3 976.7 L1378.3 976.8 L1380.3 976.8 L1382.3 976.8 L1384.3 976.9 L1386.3 976.9 L1388.3 976.9 L1390.3 977.0 L1392.2 977.0 L1394.2 977.0 L1396.2 977.1 L1398.2 977.1 L1400.2 977.1 L1402.2 977.1 L1404.2 977.2 L1406.2 977.2 L1408.2 977.2 L1410.2 977.3 L1412.2 977.3 L1414.2 977.3 L1416.1 977.3 L1418.1 977.4 L1420.1 977.4 L1422.1 977.4 L1424.1 977.4 L1426.1 977.5 L1428.1 977.5 L1430.1 977.5 L1432.1 977.5 L1434.1 977.6 L1436.1 977.6 L1438.0 977.6 L1440.0 977.6 L1442.0 977.6 L1444.0 977.7 L1446.0 977.7 L1448.0 977.7 L1450.0 977.7 L1452.0 977.8 L1454.0 977.8 L1456.0 977.8 L1457.9 977.8 L1459.9 977.8 L1461.9 977.9 L1463.9 977.9 L1465.9 977.9 L1467.9 977.9 L1469.9 978.0 L1471.9 978.0 L1473.9 978.0 L1475.8 978.0 L1477.8 978.0 L1479.8 978.1 L1481.8 978.1 L1483.8 978.1 L1485.8 978.1 L1487.8 978.2 L1489.8 978.2 L1491.7 978.2 L1493.7 978.2 L1495.7 978.2 L1497.7 978.3 L1499.7 978.3 L1501.7 978.3 L1503.7 978.3 L1505.6 978.4 L1507.6 978.4 L1509.6 978.4 L1511.6 978.4 L1513.6 978.5 L1515.6 978.5 L1517.6 978.5 L1519.5 978.6 L1521.5 978.6 L1523.5 978.6 L1525.5 978.6 L1527.5 978.7 L1529.5 978.7 L1531.4 978.7"/>
</defs>
<g clip-path="url(#pc)" fill="none" stroke-linejoin="round" stroke-linecap="butt">
<g stroke="#000" stroke-width="1.0" stroke-dasharray="14 9"><use href="#cb" x="0" y="-2"/><use href="#cb" x="-2" y="0"/><use href="#cb" x="0" y="-1.5"/><use href="#cb" x="-1.5" y="0"/><use href="#cb" x="0" y="-1"/><use href="#cb" x="-1" y="0"/><use href="#cb" x="0" y="-0.5"/><use href="#cb" x="-0.5" y="0"/><use href="#cb" x="0" y="0"/><use href="#cb" x="0" y="0.5"/><use href="#cb" x="0.5" y="0"/><use href="#cb" x="0" y="1"/><use href="#cb" x="1" y="0"/><use href="#cb" x="0" y="1.5"/><use href="#cb" x="1.5" y="0"/><use href="#cb" x="0" y="2"/><use href="#cb" x="2" y="0"/></g>
<g stroke="#40BE44" stroke-width="1.0"><use href="#cg" x="0" y="-3"/><use href="#cg" x="-3" y="0"/><use href="#cg" x="0" y="-2.5"/><use href="#cg" x="-2.5" y="0"/><use href="#cg" x="0" y="-2"/><use href="#cg" x="-2" y="0"/><use href="#cg" x="0" y="-1.5"/><use href="#cg" x="-1.5" y="0"/><use href="#cg" x="0" y="-1"/><use href="#cg" x="-1" y="0"/><use href="#cg" x="0" y="-0.5"/><use href="#cg" x="-0.5" y="0"/><use href="#cg" x="0" y="0"/><use href="#cg" x="0" y="0.5"/><use href="#cg" x="0.5" y="0"/><use href="#cg" x="0" y="1"/><use href="#cg" x="1" y="0"/><use href="#cg" x="0" y="1.5"/><use href="#cg" x="1.5" y="0"/><use href="#cg" x="0" y="2"/><use href="#cg" x="2" y="0"/><use href="#cg" x="0" y="2.5"/><use href="#cg" x="2.5" y="0"/><use href="#cg" x="0" y="3"/><use href="#cg" x="3" y="0"/></g>
<g stroke="#E20C0C" stroke-width="1.0"><use href="#cr" x="0" y="-3"/><use href="#cr" x="-3" y="0"/><use href="#cr" x="0" y="-2.5"/><use href="#cr" x="-2.5" y="0"/><use href="#cr" x="0" y="-2"/><use href="#cr" x="-2" y="0"/><use href="#cr" x="0" y="-1.5"/><use href="#cr" x="-1.5" y="0"/><use href="#cr" x="0" y="-1"/><use href="#cr" x="-1" y="0"/><use href="#cr" x="0" y="-0.5"/><use href="#cr" x="-0.5" y="0"/><use href="#cr" x="0" y="0"/><use href="#cr" x="0" y="0.5"/><use href="#cr" x="0.5" y="0"/><use href="#cr" x="0" y="1"/><use href="#cr" x="1" y="0"/><use href="#cr" x="0" y="1.5"/><use href="#cr" x="1.5" y="0"/><use href="#cr" x="0" y="2"/><use href="#cr" x="2" y="0"/><use href="#cr" x="0" y="2.5"/><use href="#cr" x="2.5" y="0"/><use href="#cr" x="0" y="3"/><use href="#cr" x="3" y="0"/></g>
<g stroke="#0505DC" stroke-width="1.0"><use href="#cu" x="0" y="-3"/><use href="#cu" x="-3" y="0"/><use href="#cu" x="0" y="-2.5"/><use href="#cu" x="-2.5" y="0"/><use href="#cu" x="0" y="-2"/><use href="#cu" x="-2" y="0"/><use href="#cu" x="0" y="-1.5"/><use href="#cu" x="-1.5" y="0"/><use href="#cu" x="0" y="-1"/><use href="#cu" x="-1" y="0"/><use href="#cu" x="0" y="-0.5"/><use href="#cu" x="-0.5" y="0"/><use href="#cu" x="0" y="0"/><use href="#cu" x="0" y="0.5"/><use href="#cu" x="0.5" y="0"/><use href="#cu" x="0" y="1"/><use href="#cu" x="1" y="0"/><use href="#cu" x="0" y="1.5"/><use href="#cu" x="1.5" y="0"/><use href="#cu" x="0" y="2"/><use href="#cu" x="2" y="0"/><use href="#cu" x="0" y="2.5"/><use href="#cu" x="2.5" y="0"/><use href="#cu" x="0" y="3"/><use href="#cu" x="3" y="0"/></g>
</g>
<g font-size="62" text-anchor="middle"><text transform="translate(340.7 1051.4) scale(1 1.0)">400</text><text transform="translate(578.9 1051.4) scale(1 1.0)">450</text><text transform="translate(817.0 1051.4) scale(1 1.0)">500</text><text transform="translate(1055.2 1051.4) scale(1 1.0)">550</text><text transform="translate(1293.4 1051.4) scale(1 1.0)">600</text><text transform="translate(1531.6 1051.4) scale(1 1.0)">650</text></g>
<g font-size="62" text-anchor="end"><text transform="translate(198.3 230.6) scale(1 1.0)">200</text><text transform="translate(198.3 613.9) scale(1 1.0)">100</text><text transform="translate(198.3 996.6) scale(1 1.0)">0</text></g>
<text transform="translate(571.6 1127.7) scale(1 1.0)" font-size="72.5" font-weight="bold">Wavelength (nm)</text>
<text transform="translate(75.2 763.5) rotate(-90)" font-size="71.6" font-weight="bold">Intensity (a.u.)</text>
<g fill="none" stroke-width="7.5">
<path d="M1114 100.8 H1251.5" stroke="#000" stroke-dasharray="19.5 12.5"/>
<path d="M1114 181.7 H1251.5" stroke="#40BE44"/>
<path d="M1114 260.3 H1251.5" stroke="#E20C0C"/>
<path d="M1114 341.3 H1251.5" stroke="#0505DC"/>
</g>
<g font-size="58.6">
<text x="1265" y="121.8">polymer</text>
<text x="1263" y="200.2">Zn<tspan font-size="37.5" dy="-27.3">2+</tspan></text>
<text x="1264" y="280.6">Na<tspan font-size="37.5" dy="-27.3">+</tspan></text>
<text x="1264" y="360">Cu<tspan font-size="37.5" dy="-27.3">2+</tspan></text>
</g>
</svg>
</body></html>
